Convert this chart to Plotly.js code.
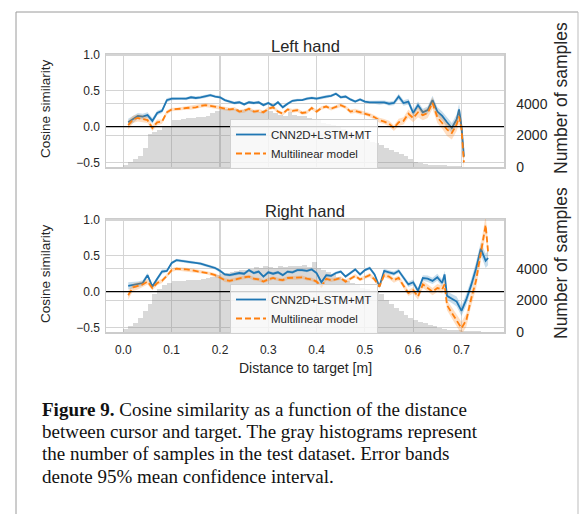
<!DOCTYPE html>
<html>
<head>
<meta charset="utf-8">
<script src="https://cdn.plot.ly/plotly-3.0.1.min.js"></script>
<style>
  html, body { margin: 0; padding: 0; background: #ffffff; }
  #chart { width: 584px; height: 514px; }
</style>
</head>
<body>
<div id="chart"></div>
<script>
// ---------------- DATA ----------------
const xTickVals = [0.0, 0.1, 0.2, 0.3, 0.4, 0.5, 0.6, 0.7];
const cosTickVals = [-0.5, 0.0, 0.5, 1.0];
const countTickVals = [0, 2000, 4000];

const histBinCenters = [0.005,0.015,0.025,0.035,0.045,0.055,0.065,0.075,0.085,0.095,
  0.105,0.115,0.125,0.135,0.145,0.155,0.165,0.175,0.185,0.195,
  0.205,0.215,0.225,0.235,0.245,0.255,0.265,0.275,0.285,0.295,
  0.305,0.315,0.325,0.335,0.345,0.355,0.365,0.375,0.385,0.395,
  0.405,0.415,0.425,0.435,0.445,0.455,0.465,0.475,0.485,0.495,
  0.505,0.515,0.525,0.535,0.545,0.555,0.565,0.575,0.585,0.595,
  0.605,0.615,0.625,0.635,0.645,0.655,0.665,0.675,0.685,0.695,
  0.705,0.715,0.725,0.735,0.745];
const histBinWidth = 0.01;

// Left hand
const leftHist = [150,300,500,700,1200,2100,2200,2350,2550,2600,
  2950,3000,3050,3100,3100,3150,3150,3200,3400,3550,
  3700,3650,3700,3650,3600,3700,3600,3500,3450,3600,
  3550,3400,3300,3250,3500,3300,3200,3250,3100,3000,
  2950,2800,2700,2650,2500,2400,2250,2100,2000,1850,
  1700,1600,1500,1400,1200,1050,950,800,700,500,
  300,250,200,150,150,120,100,80,60,50,
  30,10,5,0,0];

const leftDist = [0.01,0.02,0.03,0.04,0.05,0.06,0.07,0.08,0.09,0.10,
  0.11,0.12,0.13,0.14,0.15,0.16,0.17,0.18,0.19,0.20,
  0.21,0.22,0.23,0.24,0.25,0.26,0.27,0.28,0.29,0.30,
  0.31,0.32,0.33,0.34,0.35,0.36,0.37,0.38,0.39,0.40,
  0.41,0.42,0.43,0.44,0.45,0.46,0.47,0.48,0.49,0.50,
  0.51,0.52,0.53,0.54,0.55,0.56,0.57,0.58,0.59,0.60,
  0.61,0.62,0.63,0.64,0.65,0.66,0.67,0.68,0.69,
  0.695,0.70,0.705];
const leftCnn = [0.06,0.10,0.15,0.14,0.16,0.08,0.19,0.22,0.37,0.39,
  0.39,0.40,0.39,0.41,0.40,0.41,0.42,0.44,0.42,0.41,
  0.37,0.35,0.33,0.34,0.31,0.34,0.33,0.34,0.30,0.33,
  0.29,0.34,0.27,0.32,0.36,0.37,0.37,0.39,0.40,0.39,
  0.41,0.42,0.43,0.46,0.41,0.42,0.38,0.35,0.38,0.35,
  0.34,0.34,0.33,0.34,0.32,0.33,0.42,0.33,0.35,0.19,
  0.30,0.20,0.23,0.37,0.21,0.15,0.06,-0.02,0.10,
  0.24,0.00,-0.42];
const leftCnnCi = [0.05,0.05,0.04,0.04,0.04,0.04,0.03,0.03,0.03,0.02,
  0.02,0.02,0.02,0.02,0.02,0.02,0.02,0.02,0.02,0.02,
  0.02,0.02,0.02,0.02,0.02,0.02,0.02,0.02,0.02,0.02,
  0.02,0.02,0.02,0.02,0.02,0.02,0.02,0.02,0.02,0.02,
  0.02,0.02,0.02,0.02,0.02,0.02,0.02,0.02,0.02,0.02,
  0.02,0.02,0.025,0.025,0.03,0.03,0.04,0.04,0.04,0.05,
  0.05,0.05,0.05,0.06,0.06,0.06,0.07,0.07,0.07,
  0.08,0.09,0.12];
const leftMlm = [0.02,0.10,0.12,0.11,0.09,-0.02,0.06,0.07,0.20,0.24,
  0.24,0.25,0.26,0.26,0.27,0.29,0.30,0.29,0.28,0.27,
  0.25,0.24,0.25,0.21,0.22,0.25,0.21,0.22,0.20,0.25,
  0.27,0.21,0.18,0.24,0.22,0.23,0.19,0.20,0.26,0.21,
  0.26,0.28,0.25,0.27,0.30,0.27,0.21,0.22,0.20,0.19,
  0.16,0.13,0.09,0.07,0.04,-0.02,0.06,0.08,0.18,0.12,
  0.20,0.16,0.19,0.33,0.13,0.05,-0.04,-0.09,0.03,
  0.14,-0.03,-0.50];
const leftMlmCi = [0.06,0.05,0.05,0.05,0.04,0.04,0.04,0.03,0.03,0.025,
  0.025,0.025,0.025,0.025,0.025,0.025,0.025,0.025,0.025,0.025,
  0.025,0.025,0.025,0.025,0.025,0.025,0.025,0.025,0.025,0.025,
  0.025,0.025,0.025,0.025,0.025,0.025,0.025,0.025,0.025,0.025,
  0.025,0.025,0.025,0.025,0.025,0.025,0.03,0.03,0.03,0.03,
  0.03,0.03,0.035,0.035,0.04,0.04,0.05,0.05,0.06,0.06,
  0.07,0.07,0.07,0.08,0.08,0.08,0.09,0.09,0.09,
  0.10,0.10,0.12];

// Right hand
const rightHist = [200,400,600,900,1300,1800,2400,2700,2950,3100,
  3200,3250,3250,3300,3300,3300,3350,3400,3450,3600,
  3700,3750,3800,3850,3900,3950,4000,4100,4050,4150,
  4100,4050,4150,4100,4200,4150,4150,4250,4100,4450,
  4050,3900,3800,3650,3500,3350,3200,3100,2950,2800,
  2700,2600,2500,2400,2000,1800,1500,1350,1100,900,
  750,650,550,450,350,250,200,150,120,100,
  80,60,50,40,30];

const rightDist = [0.01,0.02,0.03,0.04,0.05,0.06,0.07,0.08,0.09,0.10,
  0.11,0.12,0.13,0.14,0.15,0.16,0.17,0.18,0.19,0.20,
  0.21,0.22,0.23,0.24,0.25,0.26,0.27,0.28,0.29,0.30,
  0.31,0.32,0.33,0.34,0.35,0.36,0.37,0.38,0.39,0.40,
  0.41,0.42,0.43,0.44,0.45,0.46,0.47,0.48,0.49,0.50,
  0.51,0.52,0.53,0.54,0.55,0.56,0.57,0.58,0.59,0.60,
  0.61,0.62,0.63,0.64,0.65,0.66,
  0.665,
  0.67,0.68,0.69,0.70,0.71,0.72,0.73,0.74,0.75,
  0.755];
const rightCnn = [0.08,0.09,0.10,0.12,0.23,0.07,0.18,0.28,0.29,0.40,
  0.44,0.43,0.42,0.41,0.41,0.39,0.37,0.35,0.33,0.29,
  0.24,0.23,0.24,0.26,0.25,0.30,0.26,0.28,0.21,0.27,
  0.25,0.27,0.23,0.28,0.27,0.30,0.30,0.29,0.31,0.26,
  0.13,0.23,0.22,0.26,0.28,0.21,0.26,0.31,0.24,0.30,
  0.33,0.24,0.07,0.29,0.27,0.25,0.29,0.20,0.10,0.13,
  0.01,0.19,0.18,0.15,0.20,0.12,
  0.24,
  -0.06,-0.10,-0.14,-0.27,-0.11,0.09,0.32,0.60,0.43,
  0.47];
const rightCnnCi = [0.05,0.04,0.04,0.04,0.03,0.03,0.03,0.03,0.02,0.02,
  0.02,0.02,0.02,0.02,0.02,0.02,0.02,0.02,0.02,0.02,
  0.02,0.02,0.02,0.02,0.02,0.02,0.02,0.02,0.02,0.02,
  0.02,0.02,0.02,0.02,0.02,0.02,0.02,0.02,0.02,0.02,
  0.02,0.02,0.02,0.02,0.02,0.02,0.02,0.02,0.02,0.02,
  0.025,0.025,0.025,0.03,0.03,0.03,0.03,0.035,0.035,0.04,
  0.04,0.04,0.045,0.045,0.05,0.05,
  0.05,
  0.06,0.06,0.07,0.07,0.08,0.08,0.09,0.09,0.10,
  0.10];
const rightMlm = [-0.05,0.06,0.08,0.10,0.14,0.05,0.12,0.15,0.22,0.30,
  0.32,0.32,0.31,0.30,0.29,0.28,0.27,0.25,0.23,0.20,
  0.16,0.15,0.17,0.18,0.20,0.21,0.18,0.17,0.14,0.17,
  0.19,0.17,0.16,0.19,0.19,0.19,0.20,0.18,0.17,0.14,
  0.07,0.18,0.16,0.17,0.19,0.14,0.18,0.22,0.17,0.20,
  0.23,0.17,0.07,0.23,0.21,0.16,0.19,0.08,-0.02,0.02,
  -0.07,0.10,0.05,0.00,0.05,0.03,
  0.10,
  -0.19,-0.30,-0.40,-0.51,-0.40,-0.10,0.15,0.55,0.93,
  0.56];
const rightMlmCi = [0.06,0.05,0.05,0.04,0.04,0.03,0.03,0.03,0.025,0.025,
  0.025,0.025,0.025,0.025,0.025,0.025,0.025,0.025,0.025,0.025,
  0.025,0.025,0.025,0.025,0.025,0.025,0.025,0.025,0.025,0.025,
  0.025,0.025,0.025,0.025,0.025,0.025,0.025,0.025,0.025,0.025,
  0.025,0.025,0.025,0.025,0.025,0.025,0.025,0.025,0.025,0.025,
  0.03,0.03,0.03,0.03,0.035,0.035,0.035,0.04,0.04,0.045,
  0.045,0.05,0.05,0.05,0.055,0.055,
  0.06,
  0.07,0.08,0.08,0.09,0.09,0.10,0.11,0.12,0.13,
  0.13];

const seriesNames = ['CNN2D+LSTM+MT', 'Multilinear model'];
const panelTitles = ['Left hand', 'Right hand'];
const yTitleLeft = 'Cosine similarity';
const yTitleRight = 'Number of samples';
const xTitle = 'Distance to target [m]';
const captionLines = [
  '<b>Figure 9.</b> Cosine similarity as a function of the distance',
  'between cursor and target. The gray histograms represent',
  'the number of samples in the test dataset. Error bands',
  'denote 95% mean confidence interval.'
];

// ---------------- STYLE / HELPERS ----------------
const W = 584, H = 514;
const px = v => v / W;
const py = v => 1 - v / H;
const BLUE = '#1f77b4', ORANGE = '#ff7f0e';
const BLUE_BAND = 'rgba(31,119,180,0.25)', ORANGE_BAND = 'rgba(255,127,14,0.25)';
const SANS = '"Liberation Sans", Arial, Helvetica, sans-serif';
const SERIF = '"Liberation Serif", "Times New Roman", serif';
const TXT = '#262626';
const GRID = '#d4d4d4';

function band(xs, ys, ci, color, xa, ya) {
  const up = ys.map((v, i) => v + ci[i]);
  const lo = ys.map((v, i) => v - ci[i]);
  return {
    type: 'scatter', mode: 'lines',
    x: xs.concat(xs.slice().reverse()),
    y: up.concat(lo.slice().reverse()),
    fill: 'toself', fillcolor: color, line: {width: 0, color: color},
    xaxis: xa, yaxis: ya, showlegend: false, hoverinfo: 'skip'
  };
}
function line(xs, ys, name, color, dash, xa, ya, leg) {
  return {
    type: 'scatter', mode: 'lines', x: xs, y: ys, name: name,
    line: {color: color, width: 1.8, dash: dash},
    xaxis: xa, yaxis: ya, legend: leg, showlegend: true, hoverinfo: 'skip'
  };
}
function hist(counts, xa, ya) {
  return {
    type: 'bar', x: histBinCenters, y: counts, width: histBinWidth,
    marker: {color: 'rgba(128,128,128,0.3)', line: {width: 0}},
    xaxis: xa, yaxis: ya, showlegend: false, hoverinfo: 'skip'
  };
}

const traces = [
  hist(leftHist, 'x', 'y'),
  band(leftDist, leftCnn, leftCnnCi, BLUE_BAND, 'x', 'y2'),
  line(leftDist, leftCnn, seriesNames[0], BLUE, 'solid', 'x', 'y2', 'legend'),
  band(leftDist, leftMlm, leftMlmCi, ORANGE_BAND, 'x', 'y2'),
  line(leftDist, leftMlm, seriesNames[1], ORANGE, '6px,3px', 'x', 'y2', 'legend'),

  hist(rightHist, 'x2', 'y3'),
  band(rightDist, rightCnn, rightCnnCi, BLUE_BAND, 'x2', 'y4'),
  line(rightDist, rightCnn, seriesNames[0], BLUE, 'solid', 'x2', 'y4', 'legend2'),
  band(rightDist, rightMlm, rightMlmCi, ORANGE_BAND, 'x2', 'y4'),
  line(rightDist, rightMlm, seriesNames[1], ORANGE, '6px,3px', 'x2', 'y4', 'legend2')
];

const xDomain = [px(106), px(504)];
const topDomain = [py(167), py(54)];
const botDomain = [py(332), py(219)];
const xRange = [-0.036, 0.788];
const cosRange = [-0.565, 1.015];
const countRange = [0, 7150];

function xAxis(anchor, showLabels) {
  return {
    domain: xDomain, anchor: anchor, range: xRange,
    tickmode: 'array', tickvals: xTickVals, tickformat: '.1f',
    showticklabels: showLabels, ticks: '', ticklabelstandoff: 6,
    tickfont: {family: SANS, size: 12, color: TXT},
    showgrid: true, gridcolor: GRID, gridwidth: 1.2,
    showline: true, mirror: true, linecolor: '#cccccc', linewidth: 1.5,
    zeroline: false, fixedrange: true
  };
}
function countAxis(domain, anchor) {
  return {
    domain: domain, anchor: anchor, side: 'right', range: countRange,
    tickmode: 'array', tickvals: countTickVals, ticks: '', ticklabelstandoff: 8,
    tickfont: {family: SANS, size: 14, color: TXT},
    showgrid: true, gridcolor: GRID, gridwidth: 1.2,
    showline: true, mirror: true, linecolor: '#cccccc', linewidth: 1.5,
    zeroline: false, fixedrange: true
  };
}
function cosAxis(overlay, anchor) {
  return {
    overlaying: overlay, anchor: anchor, side: 'left', range: cosRange,
    tickmode: 'array', tickvals: cosTickVals, tickformat: '.1f', ticks: '',
    ticklabelstandoff: 5,
    tickfont: {family: SANS, size: 12, color: TXT},
    showgrid: true, gridcolor: GRID, gridwidth: 1.2,
    showline: false, zeroline: false, fixedrange: true
  };
}

const legendStyle = (yTop) => ({
  x: px(230), y: py(yTop), xanchor: 'left', yanchor: 'top',
  bgcolor: 'rgba(255,255,255,0.8)', bordercolor: '#d0d0d0', borderwidth: 1,
  font: {family: SANS, size: 11.5, color: TXT},
  tracegroupgap: 0, itemwidth: 30
});

const annotations = [
  {text: panelTitles[0], x: px(305), y: py(46), font: {family: SANS, size: 16.5, color: TXT}},
  {text: panelTitles[1], x: px(305), y: py(211), font: {family: SANS, size: 16.5, color: TXT}},
  {text: yTitleLeft, x: px(45), y: py(109), textangle: -90, font: {family: SANS, size: 13.5, color: TXT}},
  {text: yTitleLeft, x: px(45), y: py(274), textangle: -90, font: {family: SANS, size: 13.5, color: TXT}},
  {text: yTitleRight, x: px(561), y: py(98), textangle: -90, font: {family: SANS, size: 17.5, color: TXT}},
  {text: yTitleRight, x: px(561), y: py(263), textangle: -90, font: {family: SANS, size: 17.5, color: TXT}},
  {text: xTitle, x: px(305), y: py(368), font: {family: SANS, size: 14, color: TXT}}
].map(a => Object.assign({xref: 'paper', yref: 'paper', showarrow: false,
  xanchor: 'center', yanchor: 'middle'}, a));

const capY = [409, 431, 453, 476];
captionLines.forEach((t, i) => annotations.push({
  text: t, xref: 'paper', yref: 'paper', x: px(40), y: py(capY[i]),
  xanchor: 'left', yanchor: 'middle', showarrow: false, align: 'left',
  font: {family: SERIF, size: 19, color: '#111111'}
}));

const shapes = [
  {type: 'line', xref: 'x domain', yref: 'y2', x0: 0, x1: 1, y0: 0, y1: 0,
   line: {color: '#000000', width: 1.3}, layer: 'above'},
  {type: 'line', xref: 'x2 domain', yref: 'y4', x0: 0, x1: 1, y0: 0, y1: 0,
   line: {color: '#000000', width: 1.3}, layer: 'above'},
  // figure frame
  {type: 'line', xref: 'paper', yref: 'paper', x0: px(16), x1: px(16), y0: 0, y1: py(12),
   line: {color: '#9a9a9a', width: 1}},
  {type: 'line', xref: 'paper', yref: 'paper', x0: px(16), x1: px(578), y0: py(12), y1: py(12),
   line: {color: '#9a9a9a', width: 1}},
  {type: 'line', xref: 'paper', yref: 'paper', x0: px(578), x1: px(578), y0: 0, y1: py(12),
   line: {color: '#bdbdbd', width: 1}}
];

const layout = {
  width: W, height: H,
  margin: {l: 0, r: 0, t: 0, b: 0, pad: 0},
  paper_bgcolor: '#ffffff', plot_bgcolor: '#ffffff',
  bargap: 0, barmode: 'overlay',
  showlegend: true,
  xaxis: xAxis('y', false),
  yaxis: countAxis(topDomain, 'x'),
  yaxis2: cosAxis('y', 'x'),
  xaxis2: xAxis('y3', true),
  yaxis3: countAxis(botDomain, 'x2'),
  yaxis4: cosAxis('y3', 'x2'),
  legend: legendStyle(119),
  legend2: legendStyle(284),
  annotations: annotations,
  shapes: shapes
};

Plotly.newPlot('chart', traces, layout, {displayModeBar: false, staticPlot: true});
</script>
</body>
</html>
